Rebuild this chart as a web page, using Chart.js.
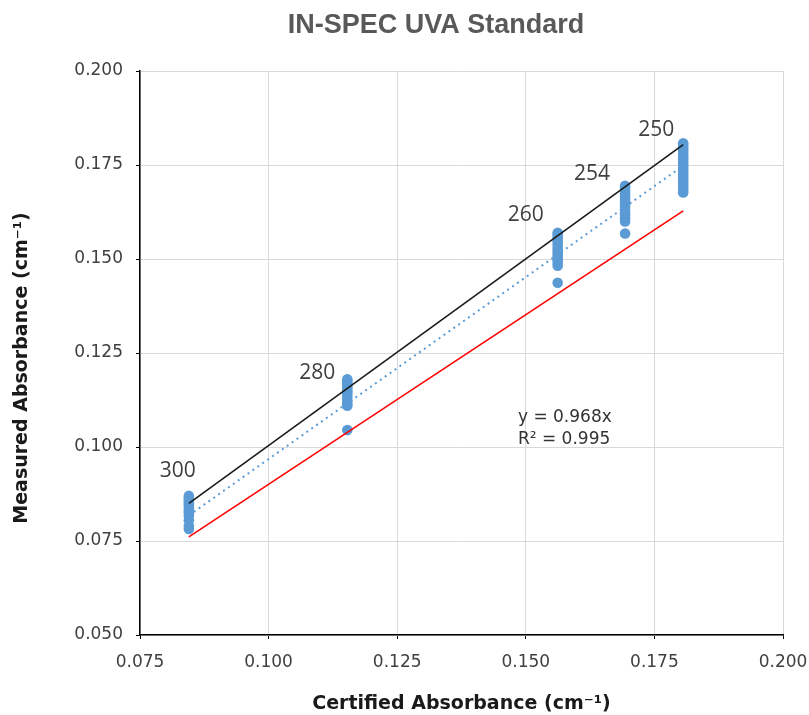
<!DOCTYPE html>
<html>
<head>
<meta charset="utf-8">
<script src="https://cdn.jsdelivr.net/npm/chart.js@4.4.1/dist/chart.umd.min.js"></script>
<style>
  html, body { margin: 0; padding: 0; background: #fff; }
  #wrap { width: 809px; height: 715px; }
</style>
</head>
<body>
<div id="wrap"><canvas id="grafico" width="809" height="715"></canvas></div>
<script>
// wavelengths (nm) and certified absorbance of each standard
const wavelengths = ["300", "280", "260", "254", "250"];
const certified = [0.0845, 0.1153, 0.1562, 0.1693, 0.1806];

// measured absorbance readings per wavelength
const measured300 = [0.0870, 0.0865, 0.0860, 0.0855, 0.0850, 0.0845, 0.0838, 0.0830, 0.0825, 0.0818, 0.0805, 0.0790, 0.0782];
const measured280 = [0.1180, 0.1175, 0.1170, 0.1163, 0.1157, 0.1150, 0.1145, 0.1138, 0.1130, 0.1122, 0.1115, 0.1110, 0.1045];
const measured260 = [0.1570, 0.1565, 0.1558, 0.1550, 0.1543, 0.1535, 0.1527, 0.1520, 0.1512, 0.1505, 0.1497, 0.1490, 0.1482, 0.1437];
const measured254 = [0.1695, 0.1690, 0.1683, 0.1675, 0.1668, 0.1660, 0.1652, 0.1645, 0.1638, 0.1630, 0.1622, 0.1615, 0.1608, 0.1600, 0.1568];
const measured250 = [0.1808, 0.1802, 0.1795, 0.1788, 0.1780, 0.1772, 0.1765, 0.1757, 0.1750, 0.1742, 0.1735, 0.1727, 0.1720, 0.1712, 0.1705, 0.1697, 0.1690, 0.1682, 0.1677];
const measuredAll = [measured300, measured280, measured260, measured254, measured250];

// reference lines (end points)
const lineX = [0.0845, 0.1806];
const idealY = [0.0850, 0.1804];   // black
const lowerY = [0.0761, 0.1628];   // red
const fitY = [0.0818, 0.1748];     // blue dotted trendline

const equacao = ["y = 0.968x", "R² = 0.995"];

const xTicks = [0.075, 0.100, 0.125, 0.150, 0.175, 0.200];
const yTicks = [0.050, 0.075, 0.100, 0.125, 0.150, 0.175, 0.200];

const pontos = [];
measuredAll.forEach((serie, i) => {
  serie.forEach(v => pontos.push({ x: certified[i], y: v }));
});
const toXY = ys => lineX.map((x, i) => ({ x: x, y: ys[i] }));

// offsets of the wavelength labels from the top point of each cluster
const labelOffsets = [[-11, -25], [-30, -6], [-32, -18], [-33, -12], [-27, -13]];

const rotulos = {
  id: "rotulos",
  afterDraw(chart) {
    const { ctx, scales: { x, y } } = chart;
    ctx.save();
    // titulo
    ctx.fillStyle = "#595959";
    ctx.font = "bold 27px 'Liberation Sans', Arial";
    ctx.textAlign = "center";
    ctx.textBaseline = "middle";
    ctx.fillText("IN-SPEC UVA Standard", 436, 26);
    // titulo do eixo y
    ctx.save();
    ctx.translate(22, 368);
    ctx.rotate(-Math.PI / 2);
    ctx.fillStyle = "#1a1a1a";
    ctx.font = "bold 19px 'DejaVu Sans'";
    ctx.fillText("Measured Absorbance (cm⁻¹)", 0, 0);
    ctx.restore();
    // comprimentos de onda
    ctx.fillStyle = "#404040";
    ctx.font = "21px 'Open Sans'";
    wavelengths.forEach((w, i) => {
      const px = x.getPixelForValue(certified[i]);
      const py = y.getPixelForValue(Math.max(...measuredAll[i]));
      ctx.fillText(w, px + labelOffsets[i][0], py + labelOffsets[i][1]);
    });
    // equacao
    ctx.font = "17px 'DejaVu Sans'";
    ctx.textAlign = "left";
    ctx.fillStyle = "#333";
    const ex = x.getPixelForValue(0.1475) + 5;
    const ey = y.getPixelForValue(0.1085) + 3;
    ctx.fillText(equacao[0], ex, ey);
    ctx.fillText(equacao[1], ex, ey + 22);
    ctx.restore();
  }
};

const ctx = document.getElementById("grafico").getContext("2d");
new Chart(ctx, {
  type: "scatter",
  data: {
    datasets: [
      {
        type: "line",
        data: toXY(lowerY),
        borderColor: "#ff0000",
        borderWidth: 1.6,
        pointRadius: 0,
        fill: false
      },
      {
        type: "line",
        data: toXY(idealY),
        borderColor: "#1a1a1a",
        borderWidth: 1.6,
        pointRadius: 0,
        fill: false
      },
      {
        type: "line",
        data: toXY(fitY),
        borderColor: "#5b9bd5",
        borderWidth: 2,
        borderDash: [2, 4],
        pointRadius: 0,
        fill: false
      },
      {
        data: pontos,
        backgroundColor: "#5b9bd5",
        borderWidth: 0,
        pointRadius: 5.3
      }
    ]
  },
  options: {
    responsive: false,
    animation: false,
    layout: { padding: { left: 0, right: 26, top: 71, bottom: 0 } },
    plugins: {
      legend: { display: false },
      tooltip: { enabled: false },
      title: { display: false }
    },
    scales: {
      x: {
        type: "linear",
        min: 0.075,
        max: 0.2,
        afterBuildTicks: s => { s.ticks = xTicks.map(v => ({ value: v })); },
        afterFit: s => { s.height = 80; s.paddingLeft = 0; s.paddingRight = 0; },
        ticks: {
          color: "#404040",
          font: { family: "'DejaVu Sans'", size: 17 },
          padding: 13,
          callback: v => v.toFixed(3)
        },
        grid: { color: "#d9d9d9", lineWidth: 1, tickColor: "#000", tickLength: 4 },
        border: { color: "#000", width: 1.5 },
        title: {
          display: true,
          text: "Certified Absorbance (cm⁻¹)",
          color: "#1a1a1a",
          font: { family: "'DejaVu Sans'", size: 19, weight: "bold" },
          padding: { top: 0, bottom: 0 }
        }
      },
      y: {
        type: "linear",
        min: 0.05,
        max: 0.2,
        afterBuildTicks: s => { s.ticks = yTicks.map(v => ({ value: v })); },
        afterFit: s => { s.width = 140; s.paddingTop = 0; s.paddingBottom = 0; },
        ticks: {
          color: "#404040",
          font: { family: "'DejaVu Sans'", size: 17 },
          padding: 13,
          callback: v => v.toFixed(3)
        },
        grid: { color: "#d9d9d9", lineWidth: 1, tickColor: "#000", tickLength: 4 },
        border: { color: "#000", width: 1.5 }
      }
    }
  },
  plugins: [rotulos]
});
</script>
</body>
</html>
